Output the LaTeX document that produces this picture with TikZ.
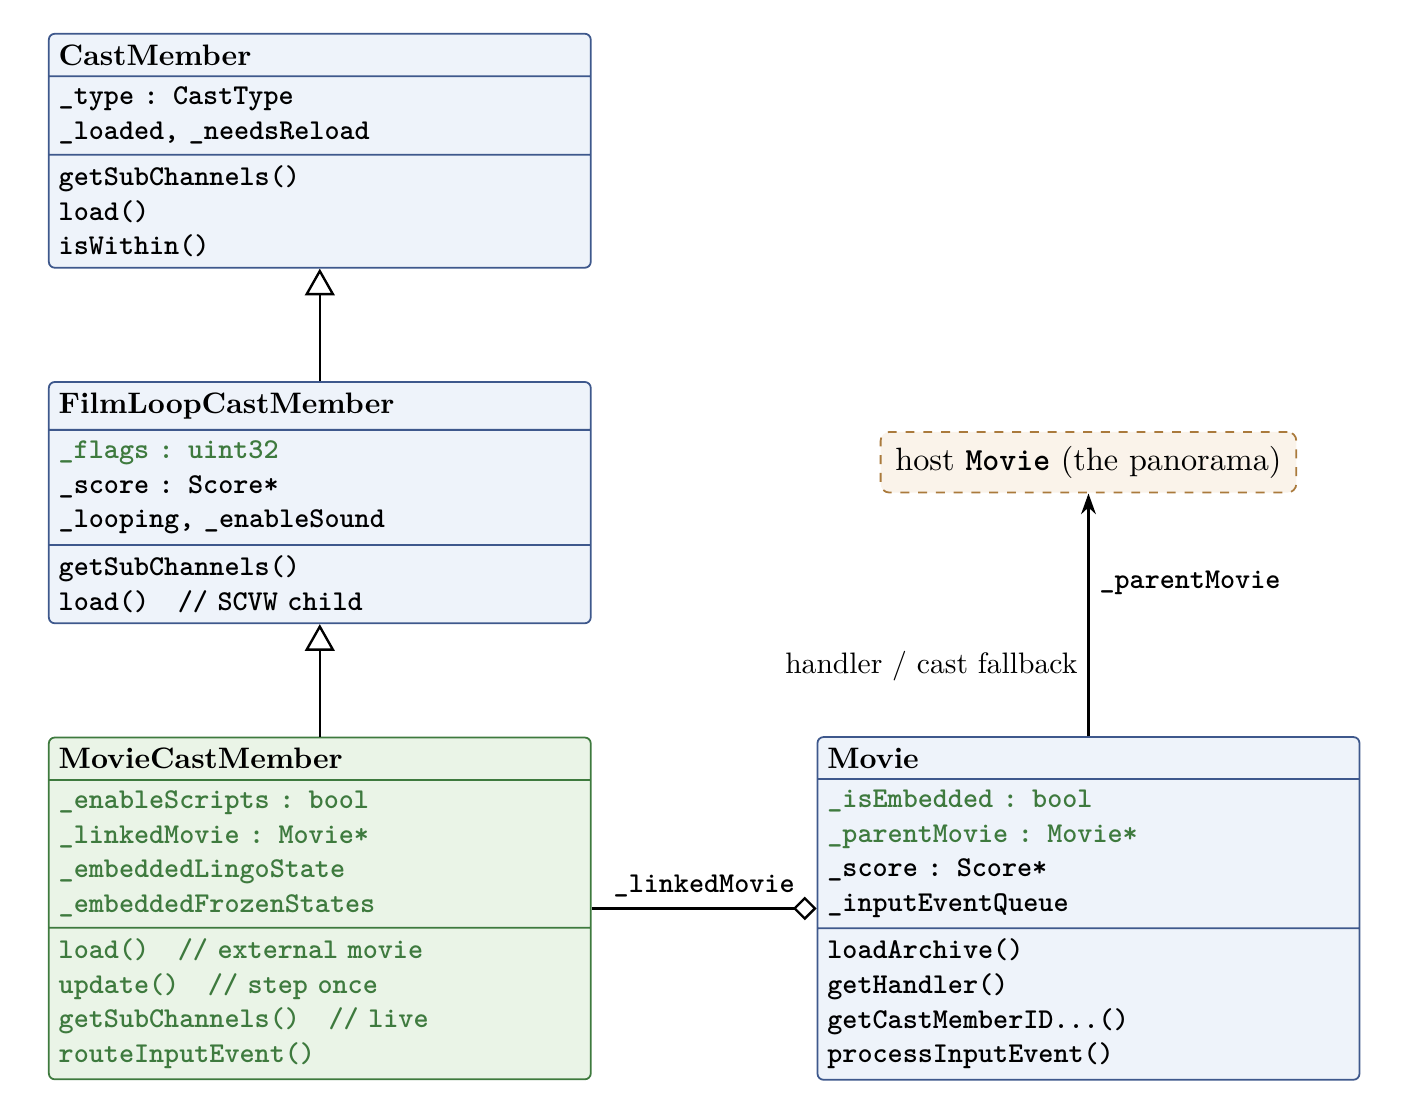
\documentclass[tikz,border=0pt]{standalone}
\usepackage{xcolor}
\definecolor{ClassBlue}{RGB}{62,88,140}
\definecolor{ClassFill}{RGB}{238,243,250}
\definecolor{NewGreen}{RGB}{62,122,62}
\definecolor{NewFill}{RGB}{234,244,231}
\definecolor{HostBrown}{RGB}{170,122,60}
\definecolor{HostFill}{RGB}{250,243,234}
\usepackage{tikz}
\usetikzlibrary{shapes.multipart,arrows.meta,positioning,calc}
\newcommand{\umlcode}{\fontsize{9.7pt}{11.7pt}\selectfont\ttfamily\bfseries}
\newcommand{\umltitle}[1]{{\fontsize{10pt}{12pt}\selectfont\rmfamily #1}}

\begin{document}
\begin{tikzpicture}[
  umlclass/.style={rectangle split,rectangle split parts=3,draw=ClassBlue,fill=ClassFill,
              semithick,rounded corners=2pt,text width=6.2cm,align=left,font=\umlcode},
  newclass/.style={umlclass,draw=NewGreen,fill=NewFill,text=NewGreen},
  hostbox/.style={rectangle,rounded corners=3pt,draw=HostBrown,fill=HostFill,
              semithick,dashed,inner xsep=5pt,minimum height=20.5pt,
              font=\fontsize{10.9pt}{13pt}\selectfont},
  inherit/.style={-{Triangle[open,length=9pt,width=10pt]},thick},
  aggr/.style={-{Diamond[open,length=8pt,width=8pt]},thick},
  assoc/.style={-{Stealth[length=7pt,width=5pt]},thick}
]
  \node[umlclass] (cast) {\umltitle{CastMember}
    \nodepart{two}\_type : CastType\\\_loaded, \_needsReload
    \nodepart{three}getSubChannels()\\load()\\isWithin()};
  \node[umlclass,below=38pt of cast] (filmloop) {\umltitle{FilmLoopCastMember}
    \nodepart{two}\textcolor{NewGreen}{\_flags : uint32}\\\_score : Score*\\\_looping, \_enableSound
    \nodepart{three}getSubChannels()\\load()\quad // SCVW child};
  \node[newclass,below=38pt of filmloop] (mcm) {\umltitle{\color{black}MovieCastMember}
    \nodepart{two}\_enableScripts : bool\\\_linkedMovie : Movie*\\\_embeddedLingoState\\\_embeddedFrozenStates
    \nodepart{three}load()\quad // external movie\\update()\quad // step once\\getSubChannels()\quad // live\\routeInputEvent()};
  \node[umlclass,right=76pt of mcm] (movie) {\umltitle{Movie}
    \nodepart{two}\textcolor{NewGreen}{\_isEmbedded : bool}\\\textcolor{NewGreen}{\_parentMovie : Movie*}\\\_score : Score*\\\_inputEventQueue
    \nodepart{three}loadArchive()\\getHandler()\\getCastMemberID...()\\processInputEvent()};
  \node[hostbox,above=82pt of movie] (host) {host \textbf{\texttt{Movie}} (the panorama)};

  \draw[inherit] (filmloop) -- (cast);
  \draw[inherit] (mcm) -- (filmloop);
  \draw[aggr] (mcm) -- node[above,font=\umlcode] {\_linkedMovie} (movie);
  \draw[assoc] (movie) -- node[pos=0.63,right,font=\umlcode] {\_parentMovie}
    node[pos=0.29,left] {handler / cast fallback} (host);

  \useasboundingbox ($(cast.north west)+(-16.2pt,11.1pt)$) rectangle ++(477pt,-373pt);
\end{tikzpicture}
\end{document}
